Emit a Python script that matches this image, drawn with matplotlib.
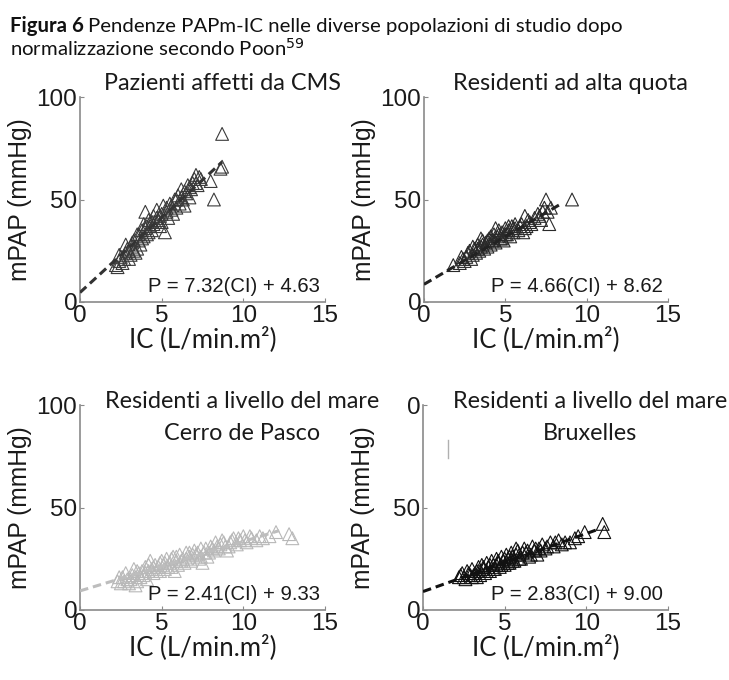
import matplotlib.pyplot as plt

# Panel 1: Pazienti affetti da CMS
cms_x = [2.2, 2.3, 2.4, 2.5, 2.6, 2.8, 2.8, 3.0, 3.0, 3.1, 3.2, 3.3, 3.4, 3.5, 3.5, 3.6, 3.7, 3.8, 3.8, 3.9,
         4.0, 4.0, 4.1, 4.2, 4.3, 4.4, 4.5, 4.5, 4.6, 4.7, 4.8, 4.9, 5.0, 5.1, 5.2, 5.3, 5.4, 5.5, 5.6, 5.7,
         5.8, 5.9, 6.0, 6.1, 6.2, 6.3, 6.4, 6.5, 6.6, 6.7, 6.8, 7.0, 7.1, 7.2, 7.4, 8.0, 8.2, 8.6, 8.7, 8.7,
         2.4, 2.7, 2.9, 3.2, 3.3, 3.6, 3.9, 4.1, 4.2, 4.4, 4.7, 4.9, 5.0, 5.3, 5.6, 5.9, 6.2, 6.4, 6.7, 6.9,
         7.1, 7.3]
cms_y = [18, 17, 20, 22, 19, 28, 24, 25, 21, 23, 27, 30, 24, 26, 33, 30, 28, 35, 31, 38,
         44, 36, 33, 40, 37, 35, 42, 38, 39, 45, 40, 37, 43, 47, 34, 44, 41, 48, 45, 43,
         50, 46, 52, 48, 55, 50, 47, 53, 57, 51, 55, 60, 62, 57, 60, 59, 50, 65, 66, 82,
         23, 21, 26, 29, 25, 33, 32, 37, 34, 39, 41, 42, 39, 46, 47, 50, 51, 54, 56, 58,
         58, 61]

# Panel 2: Residenti ad alta quota
alta_x = [1.8, 2.2, 2.4, 2.5, 2.6, 2.7, 2.9, 3.0, 3.1, 3.2, 3.3, 3.4, 3.5, 3.5, 3.6, 3.7, 3.8, 3.9, 4.0, 4.1,
          4.2, 4.3, 4.4, 4.4, 4.5, 4.6, 4.7, 4.8, 4.9, 5.0, 5.1, 5.2, 5.3, 5.4, 5.5, 5.6, 5.6, 5.8, 6.0, 6.1,
          6.2, 6.3, 6.5, 6.8, 7.0, 7.2, 7.4, 7.5, 7.6, 7.7, 7.8, 9.1,
          2.3, 2.8, 3.0, 3.3, 3.6, 3.9, 4.1, 4.3, 4.6, 4.8, 5.0, 5.2, 5.5, 5.9, 6.2, 6.4, 6.6, 7.1, 7.3]
alta_y = [18, 19, 21, 20, 22, 24, 21, 23, 26, 24, 28, 25, 27, 31, 30, 26, 29, 27, 31, 28,
          30, 33, 29, 36, 32, 35, 31, 34, 30, 36, 33, 35, 32, 37, 34, 36, 38, 35, 38, 34,
          42, 37, 39, 41, 43, 40, 46, 50, 44, 38, 46, 50,
          22, 25, 27, 26, 28, 30, 32, 30, 33, 31, 33, 37, 36, 37, 36, 40, 38, 42, 44]

# Panel 3: Residenti a livello del mare - Cerro de Pasco
cdp_x = [2.3, 2.5, 2.6, 2.8, 2.9, 3.0, 3.2, 3.3, 3.4, 3.4, 3.5, 3.6, 3.8, 3.9, 4.0, 4.1, 4.2, 4.3, 4.4, 4.5,
         4.6, 4.8, 4.9, 5.0, 5.1, 5.2, 5.3, 5.5, 5.6, 5.7, 5.8, 5.9, 6.0, 6.1, 6.3, 6.4, 6.5, 6.7, 6.8, 7.0,
         7.1, 7.3, 7.4, 7.5, 7.6, 7.8, 8.0, 8.2, 8.3, 8.5, 8.7, 8.9, 9.0, 9.2, 9.4, 9.6, 9.8, 10.0, 10.2, 10.5,
         10.8, 11.2, 11.6, 12.8, 13.0,
         2.4, 2.7, 3.1, 3.5, 3.7, 4.0, 4.2, 4.5, 4.7, 4.9, 5.2, 5.4, 5.6, 5.9, 6.2, 6.5, 6.7, 6.9, 7.2, 7.4,
         7.7, 7.9, 8.1, 8.4, 8.6, 8.8, 9.1, 9.3, 9.7, 10.1, 10.4, 11.0, 12.0]
cdp_y = [14, 13, 16, 18, 15, 13, 17, 20, 16, 12, 14, 18, 19, 17, 21, 15, 19, 24, 20, 18,
         22, 21, 19, 24, 22, 20, 25, 23, 21, 26, 19, 24, 22, 27, 25, 23, 28, 26, 24, 29,
         27, 25, 30, 23, 28, 26, 31, 29, 33, 30, 34, 31, 29, 33, 35, 32, 34, 36, 33, 35,
         34, 35, 36, 37, 35,
         16, 14, 15, 19, 16, 18, 22, 21, 19, 23, 23, 21, 25, 26, 24, 25, 28, 27, 28, 26,
         30, 28, 30, 31, 32, 33, 31, 34, 35, 34, 36, 36, 38]

# Panel 4: Residenti a livello del mare - Bruxelles
bru_x = [2.2, 2.4, 2.6, 2.7, 2.9, 3.0, 3.1, 3.2, 3.3, 3.4, 3.5, 3.6, 3.7, 3.8, 3.9, 4.0, 4.1, 4.2, 4.3, 4.4,
         4.5, 4.6, 4.7, 4.8, 4.9, 5.0, 5.1, 5.2, 5.3, 5.4, 5.5, 5.6, 5.7, 5.8, 5.9, 6.0, 6.2, 6.3, 6.5, 6.7,
         6.8, 7.0, 7.1, 7.3, 7.5, 7.8, 8.0, 8.3, 8.5, 9.0, 9.3, 9.9, 11.0, 11.1,
         2.3, 2.5, 2.8, 3.0, 3.3, 3.5, 3.7, 3.9, 4.1, 4.3, 4.5, 4.6, 4.8, 5.0, 5.2, 5.3, 5.5, 5.7, 5.9, 6.1,
         6.4, 6.6, 6.9, 7.2, 7.6, 8.1, 8.7, 9.5]
bru_y = [16, 18, 15, 19, 17, 20, 17, 18, 16, 21, 19, 22, 20, 18, 23, 21, 19, 24, 22, 20,
         25, 23, 21, 26, 24, 22, 27, 25, 23, 28, 26, 24, 30, 29, 27, 25, 30, 28, 26, 31,
         29, 27, 30, 32, 30, 33, 31, 34, 32, 33, 35, 38, 42, 38,
         17, 16, 18, 16, 19, 17, 21, 19, 22, 20, 22, 24, 22, 25, 23, 26, 24, 27, 25, 28,
         29, 27, 30, 29, 31, 33, 33, 36]

# regression: slope, intercept, x end of dashed line
fits = [(7.32, 4.63, 8.7), (4.66, 8.62, 8.5), (2.41, 9.33, 12.2), (2.83, 9.00, 10.8)]
eq_labels = ['P = 7.32(CI) + 4.63', 'P = 4.66(CI) + 8.62', 'P = 2.41(CI) + 9.33', 'P = 2.83(CI) + 9.00']
point_colors = ['#3a3a3a', '#2a2a2a', '#b8b8b8', '#111111']
line_colors = ['#333333', '#222222', '#bdbdbd', '#111111']

W, H = 729, 680
fig = plt.figure(figsize=(W / 100, H / 100), dpi=100)

calibri = ['Lato', 'DejaVu Sans']
arial = ['Liberation Sans', 'DejaVu Sans']
txt = '#1a1a1a'

# axes boxes in pixels: left, right, top(y=100), bottom(y=0)
boxes = [(80, 325, 97, 302), (424, 668, 97, 302), (80, 325, 405, 610), (423, 668, 405, 610)]
datasets = [(cms_x, cms_y), (alta_x, alta_y), (cdp_x, cdp_y), (bru_x, bru_y)]

axes = []
for i, (l, r, t, b) in enumerate(boxes):
    ax = fig.add_axes([l / W, 1 - b / H, (r - l) / W, (b - t) / H])
    xs, ys = datasets[i]
    slope, icpt, xend = fits[i]
    ax.plot([0, xend], [icpt, slope * xend + icpt], linestyle=(0, (2.8, 1.6)),
            color=line_colors[i], lw=2.2, zorder=3)
    ax.scatter(xs, ys, marker='^', s=85, facecolors='none', edgecolors=point_colors[i],
               linewidths=0.8, zorder=2)
    ax.set_xlim(0, 15)
    ax.set_ylim(0, 100)
    ax.set_xticks([0, 5, 10, 15])
    ax.set_yticks([0, 50, 100])
    for s in ['top', 'right']:
        ax.spines[s].set_visible(False)
    for s in ['left', 'bottom']:
        ax.spines[s].set_color('#8a8a8a')
        ax.spines[s].set_linewidth(1.2)
    ax.tick_params(direction='in', length=3, color='#8a8a8a', labelsize=17.5,
                   labelcolor=txt, pad=2)
    for lab in ax.get_xticklabels() + ax.get_yticklabels():
        lab.set_family(arial)
    ax.text(0.98, 0.078, eq_labels[i], transform=ax.transAxes, ha='right', va='center',
            fontsize=14.6, family=arial, color=txt)
    ax.patch.set_alpha(0)
    axes.append(ax)

# bottom-right panel: top tick label partly hidden in the original
axes[3].set_yticklabels(['0', '50', '0'], family=arial)
axes[3].plot([1.53, 1.53], [74, 83], color='#b0b0b0', lw=1)

# axis labels
for (l, r, t, b) in boxes:
    fig.text((l + r) / 2 / W, 1 - (b + 37) / H, 'IC (L/min.m²)', ha='center', va='center',
             fontsize=18.5, family=calibri, color=txt)
    fig.text((l - 60) / W, 1 - (t + b) / 2 / H, 'mPAP (mmHg)', rotation=90, ha='center', va='center',
             fontsize=17.7, family=arial, color=txt)

# panel titles
tsize = 16.8
fig.text(223 / W, 1 - 90 / H, 'Pazienti affetti da CMS', ha='center', va='baseline',
         fontsize=tsize, family=calibri, color=txt)
fig.text(570 / W, 1 - 90 / H, 'Residenti ad alta quota', ha='center', va='baseline',
         fontsize=tsize, family=calibri, color=txt)
fig.text(242 / W, 1 - 401 / H, 'Residenti a livello del mare', ha='center', va='center',
         fontsize=tsize, family=calibri, color=txt)
fig.text(242 / W, 1 - 434 / H, 'Cerro de Pasco', ha='center', va='center',
         fontsize=tsize, family=calibri, color=txt)
fig.text(590 / W, 1 - 401 / H, 'Residenti a livello del mare', ha='center', va='center',
         fontsize=tsize, family=calibri, color=txt)
fig.text(590 / W, 1 - 434 / H, 'Bruxelles', ha='center', va='center',
         fontsize=tsize, family=calibri, color=txt)

# figure caption: bold part, then the rest right after it
csize = 14.7
bold = fig.text(10 / W, 1 - 32 / H, 'Figura 6', ha='left', va='baseline', fontsize=csize,
                family=calibri, weight='bold', color='#111111')
renderer = fig.canvas.get_renderer()
bb = bold.get_window_extent(renderer)
fig.text(bb.x1 / W + 4 / W, 1 - 32 / H, 'Pendenze PAPm-IC nelle diverse popolazioni di studio dopo',
         ha='left', va='baseline', fontsize=csize, family=calibri, color='#111111')
fig.text(10 / W, 1 - 56 / H, 'normalizzazione secondo Poon$^{59}$', ha='left', va='baseline',
         fontsize=csize, family=calibri, color='#111111')

plt.savefig('out.png', dpi=100)
